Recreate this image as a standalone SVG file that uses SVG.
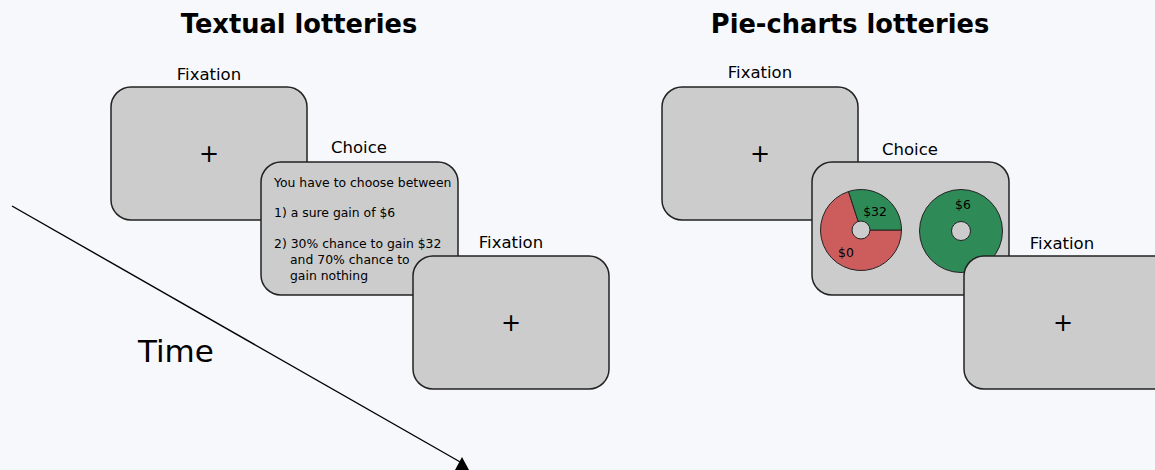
<svg xmlns="http://www.w3.org/2000/svg" width="1155" height="470" viewBox="0 0 1155 470">
  <style>
    text { font-family: "DejaVu Sans", "Liberation Sans", sans-serif; fill: #000; }
    .title { font-size: 25.7px; font-weight: bold; text-anchor: middle; }
    .lbl { font-size: 16.5px; text-anchor: middle; }
    .plus { font-size: 24px; text-anchor: middle; }
    .small { font-size: 12.4px; }
    .screen { fill: #cccccc; stroke: #222; stroke-width: 1.5; }
    .pie { stroke: #222; stroke-width: 1; }
  </style>
  <rect width="1155" height="470" fill="#f7f8fc"/>

  <text class="title" x="299" y="33">Textual lotteries</text>
  <text class="title" x="850" y="33">Pie-charts lotteries</text>

  <!-- time axis -->
  <g id="connectors">
    <line x1="12" y1="206" x2="462" y2="463" stroke="#000" stroke-width="1.4"/>
    <polygon points="462,457 455,470 469,470" fill="#000"/>
  </g>
  <text x="138" y="362" font-size="31" style="font-family:'DejaVu Sans',sans-serif">Time</text>

  <!-- textual sequence -->
  <g id="t-fix1">
    <rect class="screen" x="111" y="87" width="196" height="133" rx="20"/>
    <text class="lbl" x="209" y="80">Fixation</text>
    <text class="plus" x="209" y="162">+</text>
  </g>
  <g id="t-choice">
    <rect class="screen" x="261" y="162" width="197" height="133" rx="20"/>
    <text class="lbl" x="359" y="153">Choice</text>
    <text class="small" x="274" y="187">You have to choose between</text>
    <text class="small" x="274" y="217">1) a sure gain of $6</text>
    <text class="small" x="274" y="248">2) 30% chance to gain $32</text>
    <text class="small" x="290" y="264">and 70% chance to</text>
    <text class="small" x="290" y="280">gain nothing</text>
  </g>
  <g id="t-fix2">
    <rect class="screen" x="413" y="256" width="196" height="133" rx="20"/>
    <text class="lbl" x="511" y="248">Fixation</text>
    <text class="plus" x="511" y="331">+</text>
  </g>

  <!-- pie-chart sequence -->
  <g id="p-fix1">
    <rect class="screen" x="662" y="87" width="196" height="133" rx="20"/>
    <text class="lbl" x="760" y="78">Fixation</text>
    <text class="plus" x="760" y="162">+</text>
  </g>
  <g id="p-choice">
    <rect class="screen" x="812" y="162" width="197" height="133" rx="20"/>
    <text class="lbl" x="910" y="155">Choice</text>
    <!-- risky lottery: 30% green, 70% red -->
    <path class="pie" d="M861,230 L901.5,230 A40.5,40.5 0 1 1 848.5,191.5 Z" fill="#cd5c5c"/>
    <path class="pie" d="M861,230 L848.5,191.5 A40.5,40.5 0 0 1 901.5,230 Z" fill="#2e8b57"/>
    <circle cx="861" cy="230" r="9" fill="#cccccc" stroke="#222" stroke-width="1"/>
    <text class="small" x="875" y="216" text-anchor="middle">$32</text>
    <text class="small" x="846" y="257" text-anchor="middle">$0</text>
    <!-- sure lottery -->
    <circle class="pie" cx="961" cy="231" r="41.5" fill="#2e8b57"/>
    <circle cx="961" cy="231" r="9.5" fill="#cccccc" stroke="#222" stroke-width="1"/>
    <text class="small" x="963" y="209" text-anchor="middle">$6</text>
  </g>
  <g id="p-fix2">
    <rect class="screen" x="964" y="256" width="210" height="133" rx="20"/>
    <text class="lbl" x="1062" y="249">Fixation</text>
    <text class="plus" x="1063" y="331">+</text>
  </g>
</svg>
